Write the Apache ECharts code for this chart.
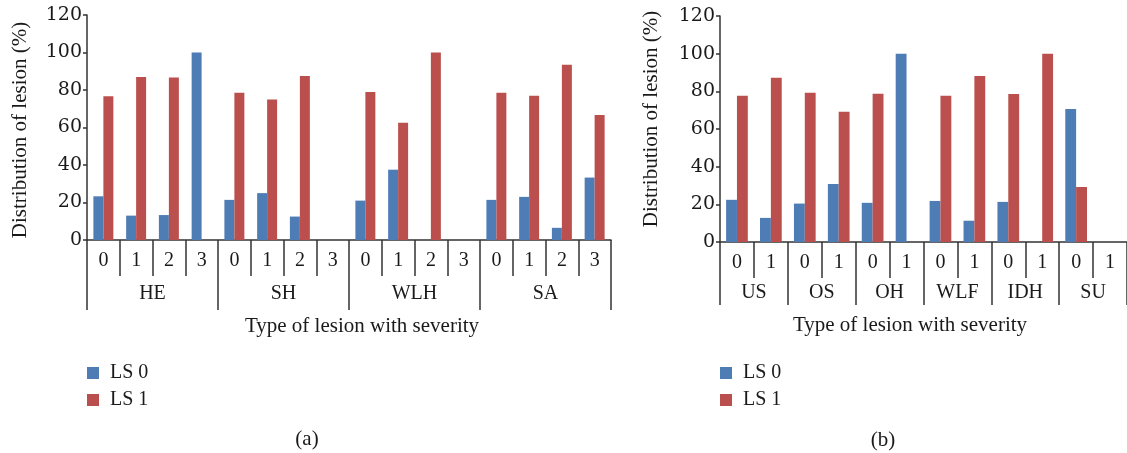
<!DOCTYPE html>
<html>
<head>
<meta charset="utf-8">
<script src="https://cdn.jsdelivr.net/npm/echarts@6/dist/echarts.min.js"></script>
<style>
html,body{margin:0;padding:0;background:#fff;}
#chart{width:1127px;height:453px;}
</style>
</head>
<body>
<div id="chart"></div>
<script>
// ----- data -----
var leftSeverity = ['0','1','2','3','0','1','2','3','0','1','2','3','0','1','2','3'];
var leftGroups = ['HE','SH','WLH','SA'];
var leftLS0 = [23.3, 13, 13.3, 100, 21.4, 25, 12.5, 0, 21, 37.5, 0, 0, 21.4, 23, 6.5, 33.3];
var leftLS1 = [76.7, 87, 86.7, 0, 78.6, 75, 87.5, 0, 79, 62.5, 100, 0, 78.6, 77, 93.5, 66.7];

var rightSeverity = ['0','1','0','1','0','1','0','1','0','1','0','1'];
var rightGroups = ['US','OS','OH','WLF','IDH','SU'];
var rightLS0 = [22.4, 12.8, 20.4, 30.8, 20.8, 100, 21.8, 11.3, 21.3, 0, 70.6, 0];
var rightLS1 = [77.6, 87.2, 79.3, 69.2, 78.7, 0, 77.6, 88.2, 78.6, 100, 29.2, 0];

var yTicks = [0, 20, 40, 60, 80, 100, 120];
var seriesNames = ['LS 0', 'LS 1'];
var panelLabels = ['(a)', '(b)'];
var yTitle = 'Distribution of lesion (%)';
var xTitle = 'Type of lesion with severity';

// ----- style -----
var FONT = '"Liberation Serif", "DejaVu Serif", serif';
var NUMFONT = '"DejaVu Serif", "Liberation Serif", serif';
var TXT = '#1a1a1a';
var AX = '#333';
var BLUE = '#4E7DB6';
var RED = '#BA4F4D';

function sevAxis(gi, data) {
  return {
    type: 'category', gridIndex: gi, data: data, position: 'bottom',
    axisLine: {show: true, lineStyle: {color: AX, width: 1.5}},
    axisTick: {show: true, interval: 0, length: 36, lineStyle: {color: AX, width: 1.5}},
    axisLabel: {interval: 0, margin: 11, fontFamily: FONT, fontSize: 20, color: TXT}
  };
}
function grpAxis(gi, data, len, margin) {
  return {
    type: 'category', gridIndex: gi, data: data, position: 'bottom',
    axisLine: {show: false},
    axisTick: {show: true, interval: 0, length: len, lineStyle: {color: AX, width: 1.5}},
    axisLabel: {interval: 0, margin: margin, fontFamily: FONT, fontSize: 20, color: TXT}
  };
}
function valAxis(gi) {
  return {
    type: 'value', gridIndex: gi, min: yTicks[0], max: yTicks[yTicks.length - 1], interval: 20,
    splitLine: {show: false},
    axisLine: {show: true, lineStyle: {color: AX, width: 1.5}},
    axisTick: {show: true, length: 4, lineStyle: {color: AX, width: 1.5}},
    axisLabel: {margin: 5, fontFamily: NUMFONT, fontSize: 19, color: TXT}
  };
}
function bar(name, gi, data, color, catGap) {
  return {
    name: name, type: 'bar', xAxisIndex: gi * 2, yAxisIndex: gi, data: data,
    barGap: '0%', barCategoryGap: catGap,
    itemStyle: {color: color}, animation: false
  };
}
function legend(left) {
  return {
    left: left, top: 358, orient: 'vertical', icon: 'rect',
    itemWidth: 12, itemHeight: 12, itemGap: 7,
    data: seriesNames,
    textStyle: {fontFamily: FONT, fontSize: 20, color: TXT, padding: [0, 0, 0, 6]}
  };
}
function txt(x, y, s, rot) {
  return {
    type: 'text', x: x, y: y, rotation: rot || 0,
    style: {text: s, fontFamily: FONT, fontSize: 21, fill: TXT, textAlign: 'center', textVerticalAlign: 'middle'}
  };
}

var chart = echarts.init(document.getElementById('chart'), null, {renderer: 'canvas'});
chart.setOption({
  animation: false,
  grid: [
    {left: 87, top: 15, width: 524, height: 225},
    {left: 720, top: 16, width: 413, height: 226}
  ],
  xAxis: [
    sevAxis(0, leftSeverity), grpAxis(0, leftGroups, 70, 44),
    sevAxis(1, rightSeverity), grpAxis(1, rightGroups, 63, 41)
  ],
  yAxis: [valAxis(0), valAxis(1)],
  legend: [legend(82), legend(715)],
  series: [
    bar(seriesNames[0], 0, leftLS0, BLUE, '39%'),
    bar(seriesNames[1], 0, leftLS1, RED, '39%'),
    bar(seriesNames[0], 1, rightLS0, BLUE, '36%'),
    bar(seriesNames[1], 1, rightLS1, RED, '36%')
  ],
  graphic: [
    txt(20, 130, yTitle, Math.PI / 2),
    txt(651, 119, yTitle, Math.PI / 2),
    txt(362, 326, xTitle),
    txt(910, 325, xTitle),
    txt(307, 439, panelLabels[0]),
    txt(883, 440, panelLabels[1])
  ]
});
</script>
</body>
</html>
